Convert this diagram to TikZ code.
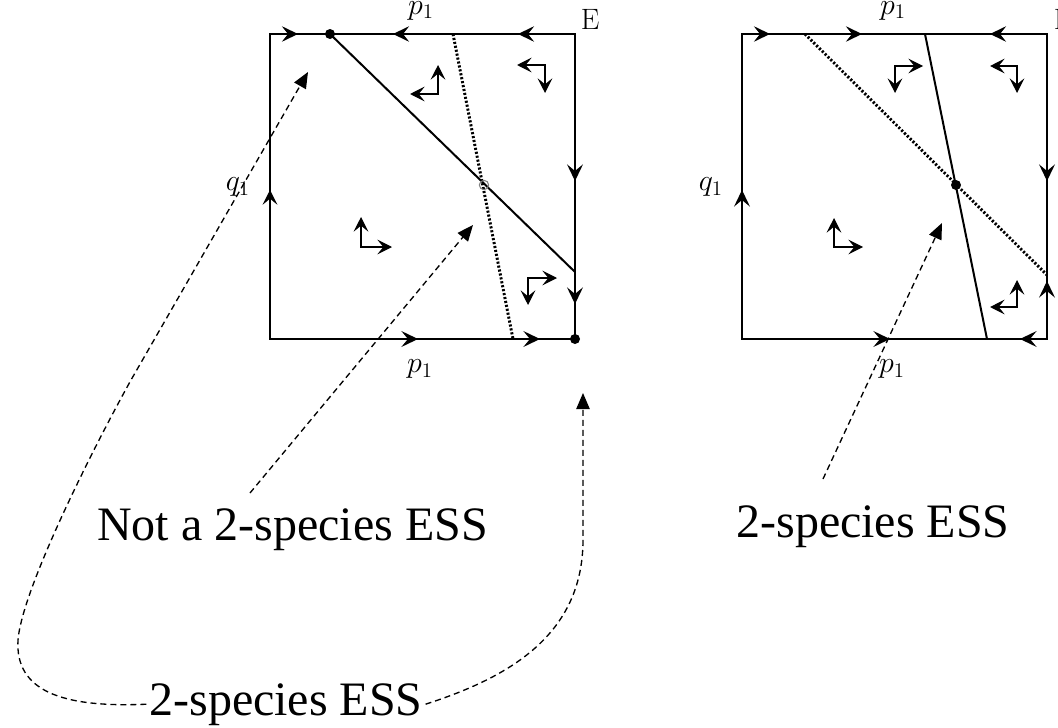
\documentclass[tikz,border=0pt]{standalone}
\usepackage{fontspec}
\newfontfamily\capfont{Liberation Serif}
\usetikzlibrary{arrows.meta}
\begin{document}
\begin{tikzpicture}[x=0.75pt,y=-0.75pt,
  edge/.style={line width=1pt},
  ea/.style={line width=1pt,-{Stealth[length=12.5pt,width=12pt,inset=5pt]}},
  eastub/.style={line width=2pt,-{Stealth[length=12pt,width=11.5pt,inset=4.5pt]}},
  thickedge/.style={line width=2.2pt,-{Stealth[length=11pt,width=11pt,inset=4.5pt]}},
  indc/.style={line width=0.9pt,{Stealth[length=11pt,width=11pt,inset=4.5pt]}-{Stealth[length=11pt,width=11pt,inset=4.5pt]}},
  iso/.style={line width=1.5pt},
  nul/.style={line width=2.2pt,dash pattern=on 1.6pt off 1.4pt},
  annot/.style={line width=1pt,dash pattern=on 4.5pt off 3pt,-{Triangle[length=12pt,width=10pt]}},
  lab/.style={inner sep=0pt,font=\fontsize{17}{20}\selectfont,scale=1.3},
  captext/.style={inner sep=2pt,font=\capfont\fontsize{36}{40}\selectfont},
  dot/.style={circle,fill,inner sep=0pt,minimum size=7.5pt},
  hollow/.style={circle,draw=gray,line width=0.8pt,inner sep=0pt,minimum size=7pt}
]
\useasboundingbox (0,0) rectangle (1058,728);
\clip (0,0) rectangle (1058,728);
\fill[white] (0,0) rectangle (1058,728);

% ---------- left square ----------
\draw[edge] (270,34) rectangle (575,339);
\draw[thickedge] (270,339) -- (270,190);
\draw[eastub] (271,34) -- (298,34);
\draw[eastub] (423,34) -- (393,34);
\draw[eastub] (545,34) -- (518,34);
\draw[ea] (575,158) -- (575,181);
\draw[ea] (575,281) -- (575,304);
\draw[ea] (395,339) -- (418,339);
\draw[ea] (517,339) -- (540,339);

\draw[iso] (330,34) -- (575,272);
\draw[nul] (453,34) -- (513,339);

\draw[indc] (410,94) -- (438,94) -- (438,65);
\draw[indc] (517,65) -- (545,65) -- (545,93);
\draw[indc] (361,217) -- (361,247) -- (392,247);
\draw[indc] (557,278) -- (528,278) -- (528,305);

\node[dot] (eA) at (330,34) {};
\node[dot] (eB) at (575,339) {};
\node[hollow] (eC) at (484,185) {};

\node[lab,anchor=base] (ptL) at (421,14) {$p_1$};
\node[lab] (pbL) at (420,369) {$p_1$};
\node[lab] (qL) at (238,187) {$q_1$};
\node[lab] (EL) at (590,19) {$\mathrm{E}$};

% ---------- right square ----------
\draw[edge] (742,34) rectangle (1047,339);
\draw[eastub] (743,34) -- (770,34);
\draw[eastub] (833,34) -- (862,34);
\draw[eastub] (1018,34) -- (990,34);
\draw[ea] (1047,158) -- (1047,181);
\draw[ea] (1047,304) -- (1047,281);
\draw[ea] (867,339) -- (890,339);
\draw[ea] (1043,339) -- (1020,339);
\draw[ea] (742,213) -- (742,190);

\draw[nul] (805,34) -- (1047,275);
\draw[iso] (925,34) -- (987,339);

\draw[indc] (923,66) -- (895,66) -- (895,93);
\draw[indc] (990,66) -- (1017,66) -- (1017,93);
\draw[indc] (834,218) -- (834,247) -- (863,247);
\draw[indc] (990,307) -- (1017,307) -- (1017,280);

\node[dot] (eD) at (956,185) {};

\node[lab,anchor=base] (ptR) at (893,14) {$p_1$};
\node[lab] (pbR) at (892,369) {$p_1$};
\node[lab] (qR) at (711,187) {$q_1$};
\node[lab] (ER) at (1063,19) {$\mathrm{E}$};

% ---------- captions ----------
\node[captext,anchor=base] (notA) at (292.5,540) {Not a 2-species ESS};
\node[captext,anchor=base] (bot) at (286,715) {2-species ESS};
\node[captext,anchor=base] (rgt) at (873,537) {2-species ESS};

\coordinate (tA) at (308,72);
\coordinate (tB) at (473,225);
\coordinate (tC) at (583,393);
\coordinate (tD) at (942,223);
\coordinate (sB) at (250,493);
\coordinate (sD) at (823,479);

\draw[annot] (bot.west) .. controls (60,708) and (15,690) .. (18,640)
  .. controls (22,590) and (91,452) .. (131,380) -- (tA);
\draw[annot] (bot.east) .. controls (500,680) and (583,640) .. (583,540) -- (tC);
\draw[annot] (sB) -- (tB);
\draw[annot] (sD) -- (tD);
\end{tikzpicture}
\end{document}
